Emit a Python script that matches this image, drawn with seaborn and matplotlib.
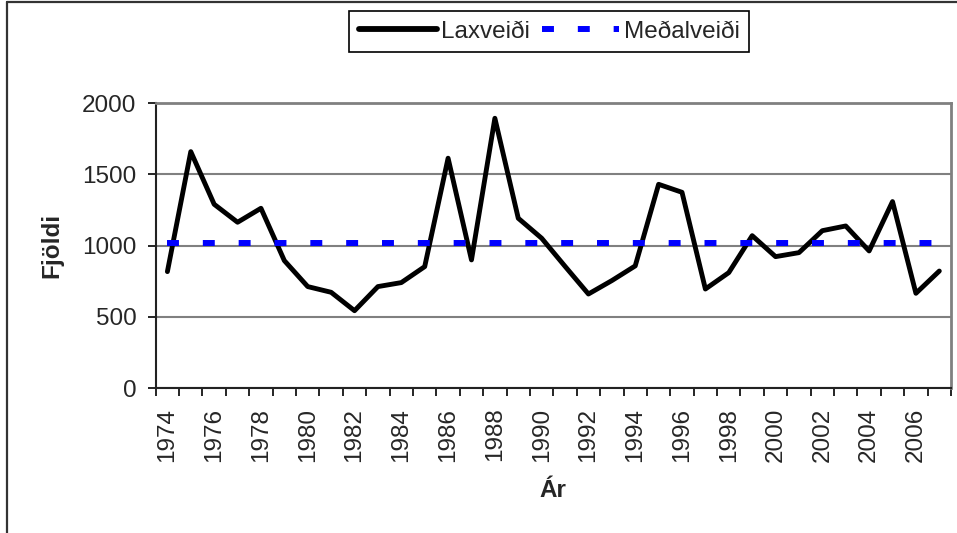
import pandas as pd
import seaborn as sns
import matplotlib.pyplot as plt
from matplotlib.lines import Line2D
from matplotlib.ticker import FixedLocator

# data
ar = list(range(1974, 2008))
laxveidi = [818, 1659, 1290, 1164, 1262, 895, 713, 673, 544, 713,
            741, 853, 1613, 900, 1893, 1192, 1052, 855, 661, 755,
            858, 1430, 1374, 696, 811, 1070, 923, 951, 1105, 1138,
            963, 1309, 666, 822]
medal = 1017
medalveidi = [medal] * len(ar)
ytick_vals = [0, 500, 1000, 1500, 2000]
xtick_labels = [str(y) for y in ar[::2]]

df = pd.DataFrame({'Ár': ar, 'Laxveiði': laxveidi, 'Meðalveiði': medalveidi})

sns.set_style('white')
plt.rcParams['font.family'] = ['Liberation Sans', 'DejaVu Sans']
fs = 17.5

W, H = 957, 533
fig = plt.figure(figsize=(W / 100, H / 100), dpi=100)
ax = fig.add_axes([155.7 / W, 1 - 388.3 / H, 795.3 / W, 285.3 / H])

sns.lineplot(data=df, x='Ár', y='Laxveiði', color='black', lw=3.5, ax=ax,
             label='Laxveiði')
sns.lineplot(data=df, x='Ár', y='Meðalveiði', color='#0000ff', lw=4.3, ax=ax,
             label='Meðalveiði')
mean_line = ax.lines[-1]
mean_line.set_dashes((2, 4))
mean_line.set_dash_capstyle('butt')

ax.set_xlim(ar[0] - 0.5, ar[-1] + 0.5)
ax.set_ylim(0, 2000)
ax.set_yticks(ytick_vals)
ax.set_yticklabels([str(v) for v in ytick_vals], fontsize=fs)
ax.yaxis.grid(True, color='#808080', lw=1.5)
ax.set_axisbelow(True)

ax.set_xticks(ar[::2])
ax.set_xticklabels(xtick_labels, rotation=90, fontsize=fs)
ax.xaxis.set_minor_locator(FixedLocator([y - 0.5 for y in ar] + [ar[-1] + 0.5]))
ax.tick_params(axis='x', which='major', length=0, pad=14)
ax.tick_params(axis='x', which='minor', bottom=True, length=5.5, width=1.2,
               color='black', direction='out')
ax.tick_params(axis='y', left=True, length=6, width=1.2, color='black',
               direction='out', pad=8)

for side in ['left', 'bottom']:
    ax.spines[side].set_color('#222222')
    ax.spines[side].set_linewidth(1.5)
for side in ['top', 'right']:
    ax.spines[side].set_color('#808080')
    ax.spines[side].set_linewidth(2)

ax.set_xlabel('Ár', fontsize=fs, fontweight='bold')
ax.set_ylabel('Fjöldi', fontsize=fs, fontweight='bold')
ax.xaxis.label.set_va('center')
ax.xaxis.set_label_coords(0.5, (388.3 - 490) / 285.3)
ax.yaxis.label.set_va('center')
ax.yaxis.set_label_coords((52 - 155.7) / 795.3, 0.5)

leg = ax.legend(loc='upper left', bbox_to_anchor=(349 / W, 1 - 11 / H),
                bbox_transform=fig.transFigure, ncol=2, fontsize=17.5,
                frameon=True, fancybox=False, framealpha=1, edgecolor='black',
                handlelength=3.2, handletextpad=0.17, columnspacing=0.5,
                borderpad=0.4, borderaxespad=0)
leg.get_frame().set_linewidth(1.2)
leg.get_lines()[0].set_linewidth(4.2)

# outer chart border
fig.add_artist(Line2D([7.5 / W, 1], [1 - 1.5 / H, 1 - 1.5 / H],
                      transform=fig.transFigure, color='#333333', lw=1.6))
fig.add_artist(Line2D([7.5 / W, 7.5 / W], [0, 1 - 1.5 / H],
                      transform=fig.transFigure, color='#333333', lw=1.6))

fig.savefig('out.png', dpi=100)
